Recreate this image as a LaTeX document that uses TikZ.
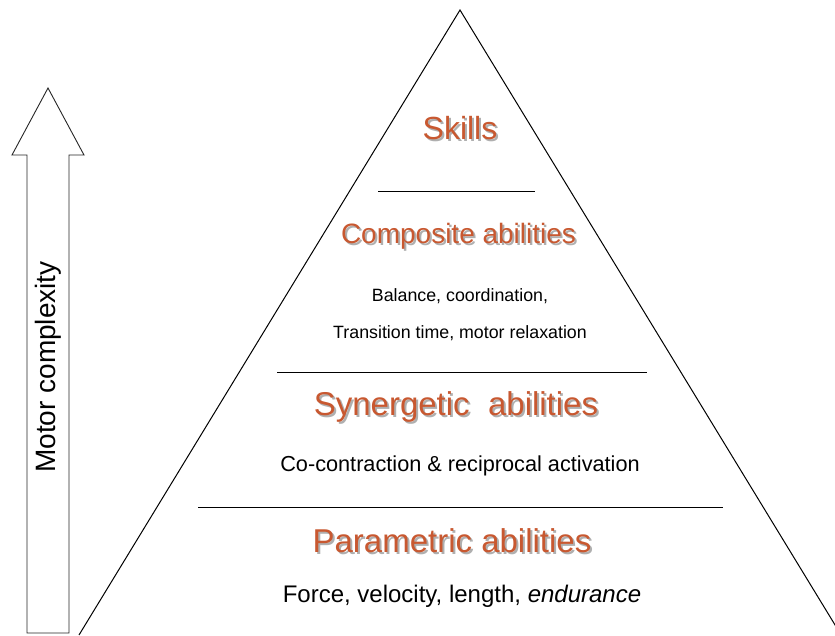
\documentclass[tikz,border=0pt]{standalone}
\usepackage{fontspec}
\setmainfont{Liberation Sans}
\definecolor{orng}{RGB}{200,88,48}
\definecolor{shd}{RGB}{175,175,175}
\begin{document}
\begin{tikzpicture}[x=1pt,y=-1pt,
  title/.style={text=orng,inner sep=0pt},
  body/.style={text=black,inner sep=0pt},
  ttlshadow/.style={text=shd,inner sep=0pt},
  sep/.style={draw=black,line width=0.8pt}]
\useasboundingbox (0,0) rectangle (835,635);
\begin{scope}
\clip (0,0) rectangle (835,635);
\draw[line width=1pt] (79,635) coordinate (bl) -- (460,10) coordinate (apex) -- (843,638) coordinate (br);
\end{scope}
% arrow
\draw[line width=0.9pt,draw=black!85,fill=white] (27,633) -- (27,155) -- (12,155) -- (48,88) -- (84,155) -- (69,155) -- (69,633) -- cycle;
\node[rotate=90,inner sep=0pt,font=\fontsize{28}{32}\selectfont] (mc) at (48,367) {Motor complexity};
% separators
\coordinate (s1a) at (378,191); \coordinate (s1b) at (535,191);
\coordinate (s2a) at (277,372); \coordinate (s2b) at (647,372);
\coordinate (s3a) at (198,507); \coordinate (s3b) at (723,507);
\draw[sep] (s1a) -- (s1b);
\draw[sep] (s2a) -- (s2b);
\draw[sep] (s3a) -- (s3b);
% titles with shadows
\node[ttlshadow,font=\fontsize{32}{36}\selectfont] at (462,130) {Skills};
\node[title,font=\fontsize{32}{36}\selectfont] (skills) at (460,128) {Skills};
\node[ttlshadow,font=\fontsize{28}{32}\selectfont] at (460.5,238) {Composite abilities};
\node[title,font=\fontsize{28}{32}\selectfont] (comp) at (458.5,236) {Composite abilities};
\node[ttlshadow,font=\fontsize{33}{36}\selectfont] at (458,409) {Synergetic\ \ abilities};
\node[title,font=\fontsize{33}{36}\selectfont] (syn) at (456,407) {Synergetic\ \ abilities};
\node[ttlshadow,font=\fontsize{33}{36}\selectfont] at (454,543) {Parametric abilities};
\node[title,font=\fontsize{33}{36}\selectfont] (par) at (452,541) {Parametric abilities};
% body texts
\node[body,font=\fontsize{17.8}{20}\selectfont] (bal) at (460,296) {Balance, coordination,};
\node[body,font=\fontsize{17.8}{20}\selectfont] (tra) at (460,333) {Transition time, motor relaxation};
\node[body,font=\fontsize{21.7}{24}\selectfont] (coc) at (460,466) {Co-contraction \& reciprocal activation};
\node[body,font=\fontsize{24}{28}\selectfont] (frc) at (462,596) {Force, velocity, length, \textit{endurance}};
\end{tikzpicture}
\end{document}
